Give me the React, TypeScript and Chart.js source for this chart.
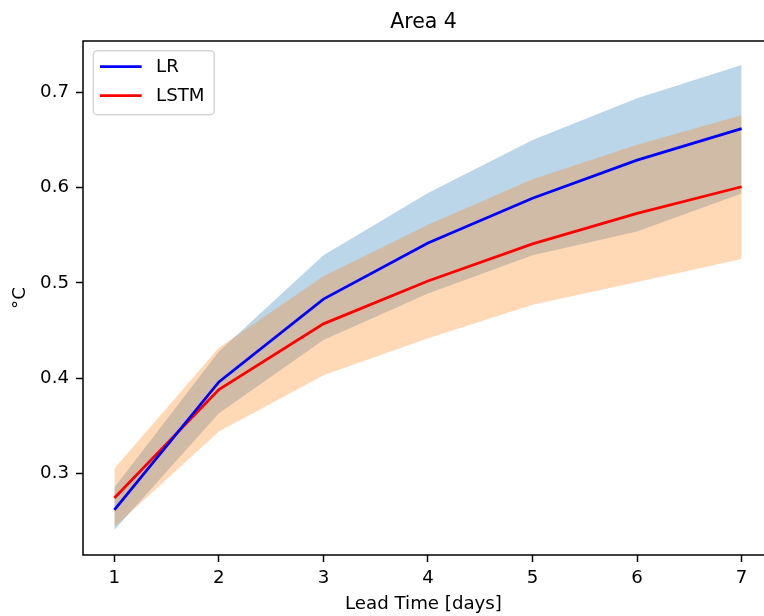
import React, { useEffect, useRef } from "react";
import { Chart, registerables } from "chart.js";

Chart.register(...registerables);

const leadTimes = [1, 2, 3, 4, 5, 6, 7];
const lrMean = [0.2615, 0.396, 0.483, 0.542, 0.589, 0.629, 0.662];
const lrLower = [0.2405, 0.363, 0.44, 0.489, 0.529, 0.554, 0.594];
const lrUpper = [0.285, 0.428, 0.529, 0.5945, 0.65, 0.694, 0.729];
const lstmMean = [0.274, 0.388, 0.457, 0.502, 0.541, 0.573, 0.601];
const lstmLower = [0.2437, 0.344, 0.403, 0.442, 0.477, 0.501, 0.525];
const lstmUpper = [0.305, 0.432, 0.507, 0.561, 0.609, 0.645, 0.676];

const xTicks = [1, 2, 3, 4, 5, 6, 7];
const xTickLabels = ["1", "2", "3", "4", "5", "6", "7"];
const yTicks = [0.3, 0.4, 0.5, 0.6, 0.7];
const yTickLabels = ["0.3", "0.4", "0.5", "0.6", "0.7"];

// x range: matplotlib 5% margins (0.7..7.3); the figure is cropped on the right
const X_MIN = 0.7;
const X_MAX = 7.3 - 9 / (690 / 6.6);

const FONT = '"DejaVu Sans", sans-serif';
const FS = 18.2;

const pts = (arr: number[]) => leadTimes.map((x, i) => ({ x, y: arr[i] }));

const spinePlugin = {
  id: "spines",
  afterDatasetsDraw(chart: any) {
    const { ctx, chartArea: a } = chart;
    ctx.save();
    ctx.strokeStyle = "#000";
    ctx.lineWidth = 1.5;
    ctx.beginPath();
    ctx.moveTo(chart.width + 5, a.top);
    ctx.lineTo(a.left, a.top);
    ctx.lineTo(a.left, a.bottom);
    ctx.lineTo(chart.width + 5, a.bottom);
    ctx.stroke();
    ctx.restore();
  },
};

const legendPlugin = {
  id: "mplLegend",
  afterDraw(chart: any) {
    const { ctx, chartArea: a } = chart;
    const items = chart.data.datasets.filter((d: any) => d.inLegend);
    const x0 = a.left + 10.3;
    const y0 = a.top + 9.7;
    const w = 121;
    const h = 64;
    ctx.save();
    ctx.beginPath();
    ctx.roundRect(x0, y0, w, h, 4);
    ctx.fillStyle = "rgba(255,255,255,0.8)";
    ctx.fill();
    ctx.strokeStyle = "rgba(204,204,204,0.8)";
    ctx.lineWidth = 1.5;
    ctx.stroke();
    items.forEach((d: any, i: number) => {
      const y = y0 + 16 + i * 29;
      ctx.strokeStyle = d.borderColor;
      ctx.lineWidth = 2.8;
      ctx.beginPath();
      ctx.moveTo(x0 + 6.7, y);
      ctx.lineTo(x0 + 48.4, y);
      ctx.stroke();
      ctx.fillStyle = "#000";
      ctx.font = `${FS}px ${FONT}`;
      ctx.textBaseline = "middle";
      ctx.textAlign = "left";
      ctx.fillText(d.label, x0 + 62.7, y + 1);
    });
    ctx.restore();
  },
};

export default function App() {
  const ref = useRef<HTMLCanvasElement | null>(null);

  useEffect(() => {
    if (!ref.current) return;
    const band = (data: number[], label: string) => ({
      label,
      data: pts(data),
      borderWidth: 0,
      borderColor: "rgba(0,0,0,0)",
      pointRadius: 0,
      pointHoverRadius: 0,
    });
    const chart = new Chart(ref.current, {
      type: "line",
      data: {
        datasets: [
          { ...band(lrLower, "LR lower"), fill: false, order: 2 },
          { ...band(lrUpper, "LR upper"), fill: 0, backgroundColor: "rgba(31,119,180,0.3)", order: 2 },
          { ...band(lstmLower, "LSTM lower"), fill: false, order: 1 },
          { ...band(lstmUpper, "LSTM upper"), fill: 2, backgroundColor: "rgba(255,127,14,0.3)", order: 1 },
          {
            label: "LR",
            data: pts(lrMean),
            borderColor: "#0000ff",
            borderWidth: 2.8,
            pointRadius: 0,
            fill: false,
            order: 0,
            inLegend: true,
          } as any,
          {
            label: "LSTM",
            data: pts(lstmMean),
            borderColor: "#ff0000",
            borderWidth: 2.8,
            pointRadius: 0,
            fill: false,
            order: 0,
            inLegend: true,
          } as any,
        ],
      },
      options: {
        responsive: false,
        animation: false,
        events: [],
        layout: { padding: { left: 0, right: 0, top: 0, bottom: 0 } },
        plugins: {
          legend: { display: false },
          tooltip: { enabled: false },
          title: {
            display: true,
            text: "Area 4",
            fullSize: false,
            color: "#000",
            font: { family: FONT, size: 20.5, weight: "normal" },
            padding: { top: 10, bottom: 6.4 },
          },
        },
        scales: {
          x: {
            type: "linear",
            min: X_MIN,
            max: X_MAX,
            afterBuildTicks: (s: any) => {
              s.ticks = xTicks.map((v) => ({ value: v }));
            },
            afterFit: (s: any) => {
              s.height = 61;
            },
            ticks: {
              autoSkip: false,
              maxRotation: 0,
              padding: 5,
              color: "#000",
              font: { family: FONT, size: FS },
              callback: (_v: any, i: number) => xTickLabels[i],
            },
            grid: {
              drawOnChartArea: false,
              drawTicks: true,
              tickLength: 7,
              tickColor: "#000",
              tickWidth: 1.5,
            },
            border: { display: false },
            title: {
              display: true,
              text: "Lead Time [days]",
              color: "#000",
              font: { family: FONT, size: FS },
              padding: { top: 0, bottom: 1 },
            },
          },
          y: {
            type: "linear",
            min: 0.2142,
            max: 0.7541,
            afterBuildTicks: (s: any) => {
              s.ticks = yTicks.map((v) => ({ value: v }));
            },
            afterFit: (s: any) => {
              s.width = 83;
            },
            ticks: {
              autoSkip: false,
              padding: 7,
              color: "#000",
              font: { family: FONT, size: FS },
              callback: (_v: any, i: number) => yTickLabels[i],
            },
            grid: {
              drawOnChartArea: false,
              drawTicks: true,
              tickLength: 7,
              tickColor: "#000",
              tickWidth: 1.5,
            },
            border: { display: false },
            title: {
              display: true,
              text: "°C",
              color: "#000",
              font: { family: FONT, size: FS },
              padding: { top: 9, bottom: 0 },
            },
          },
        },
      },
      plugins: [spinePlugin, legendPlugin],
    } as any);
    return () => chart.destroy();
  }, []);

  return (
    <div
      style={{
        position: "fixed",
        left: 0,
        top: 0,
        width: 764,
        height: 616,
        background: "#fff",
      }}
    >
      <canvas ref={ref} width={764} height={616} style={{ display: "block" }} />
    </div>
  );
}
